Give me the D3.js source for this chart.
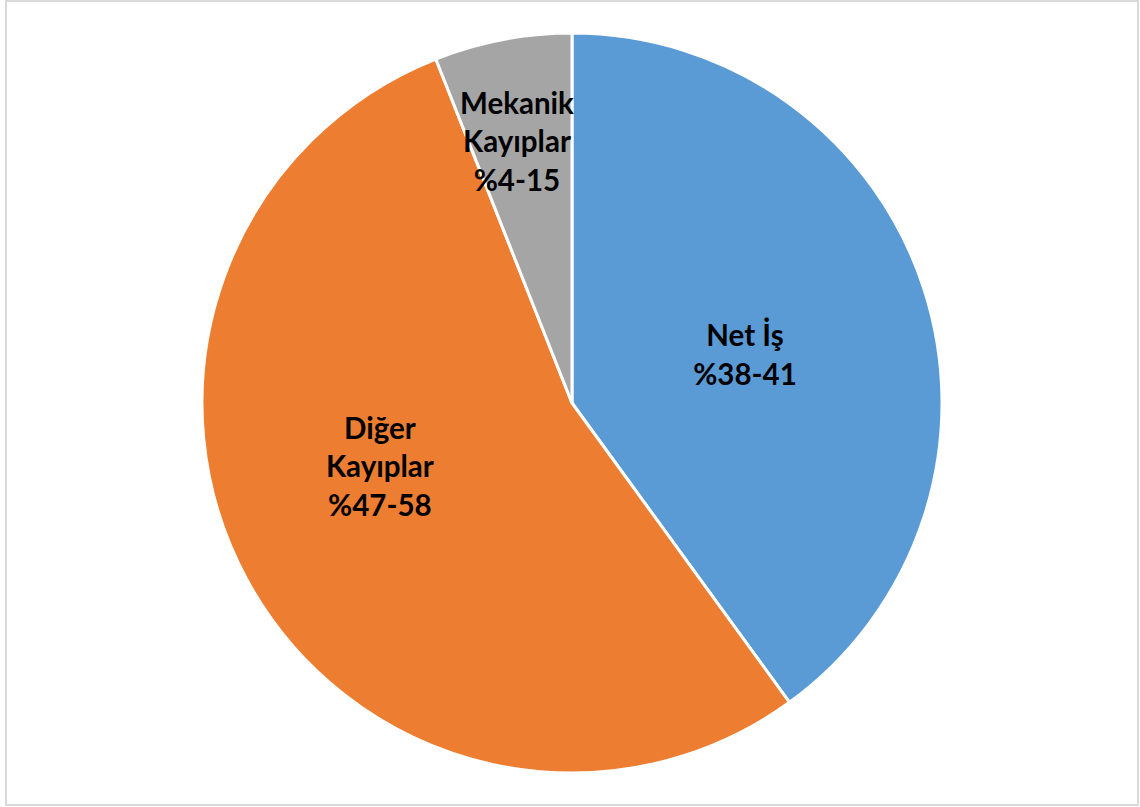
<!DOCTYPE html>
<html>
<head>
<meta charset="utf-8">
<script src="https://cdn.jsdelivr.net/npm/d3@7"></script>
<style>
  html, body { margin: 0; padding: 0; background: #fff; }
  svg { display: block; }
</style>
</head>
<body>
<svg id="chart" width="1140" height="807"></svg>
<script>
// Energy balance shares (clockwise from 12 o'clock)
const categories = ["Net İş", "Diğer Kayıplar", "Mekanik Kayıplar"];
const shares = [40, 54, 6];
const rangeLabels = ["%38-41", "%47-58", "%4-15"];
const labelLines = [["Net İş"], ["Diğer", "Kayıplar"], ["Mekanik", "Kayıplar"]];
const colors = ["#5B9BD5", "#ED7D31", "#A5A5A5"];

// label block placement: distance from centre and angular shift (deg) from slice middle
const labelRadius = [179.5, 202.5, 267];
const labelShift = [2.5, 10.4, -1.1];

const cx = 572, cy = 403, R = 370;

const svg = d3.select("#chart");

// chart area frame
svg.append("rect")
  .attr("x", 6).attr("y", 1)
  .attr("width", 1132).attr("height", 804)
  .attr("fill", "#fff")
  .attr("stroke", "#d9d9d9")
  .attr("stroke-width", 2);

const data = categories.map((c, i) => ({ name: c, value: shares[i], i }));

const pie = d3.pie().value(d => d.value).sort(null);
const arc = d3.arc().innerRadius(0).outerRadius(R);
const arcs = pie(data);

const g = svg.append("g").attr("transform", `translate(${cx},${cy})`);

g.selectAll("path.slice")
  .data(arcs)
  .join("path")
  .attr("class", "slice")
  .attr("d", arc)
  .attr("fill", d => colors[d.data.i])
  .attr("stroke", "#fff")
  .attr("stroke-width", 3)
  .attr("stroke-linejoin", "round");

const lineH = 38.5;
const fontSize = 29.5;

arcs.forEach(a => {
  const i = a.data.i;
  const ang = (a.startAngle + a.endAngle) / 2 + labelShift[i] * Math.PI / 180;
  const lx = labelRadius[i] * Math.sin(ang);
  const ly = -labelRadius[i] * Math.cos(ang);
  const lines = labelLines[i].concat([rangeLabels[i]]);
  const y0 = ly - (lines.length - 1) * lineH / 2;
  const t = g.append("text")
    .attr("text-anchor", "middle")
    .attr("font-family", "Lato, 'Open Sans', sans-serif")
    .attr("font-weight", "bold")
    .attr("font-size", fontSize)
    .attr("fill", "#000");
  lines.forEach((s, k) => {
    t.append("tspan")
      .attr("x", lx)
      .attr("y", y0 + k * lineH)
      .attr("dy", "0.35em")
      .text(s);
  });
});
</script>
</body>
</html>
